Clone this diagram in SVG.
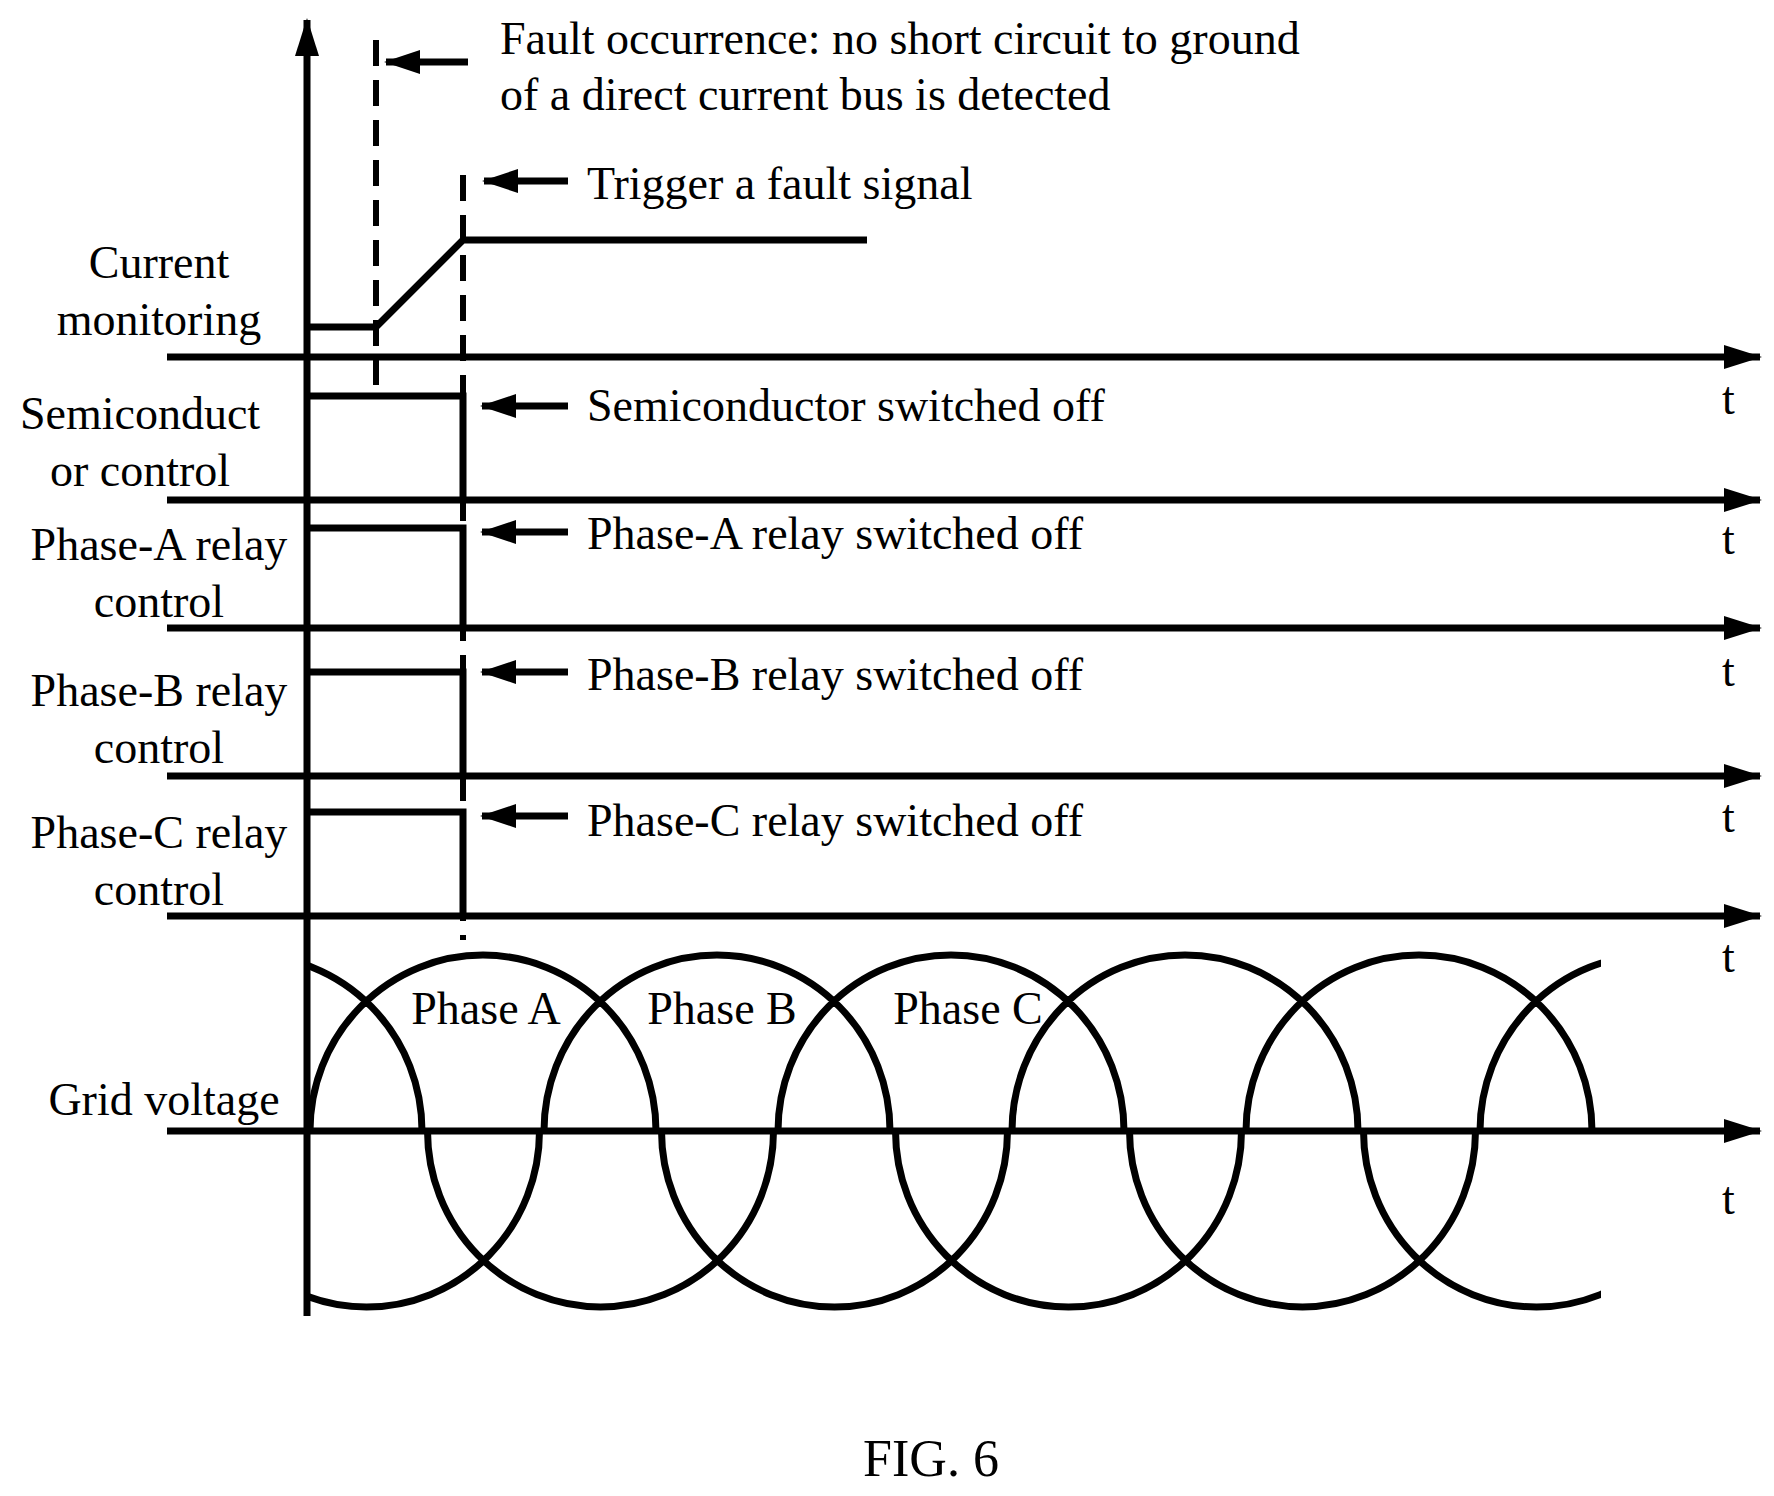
<svg xmlns="http://www.w3.org/2000/svg" width="1774" height="1496" viewBox="0 0 1774 1496">
<style>
.t{font-family:"Liberation Serif","Times New Roman",serif;font-size:46px;fill:#000}
.m{text-anchor:middle}
.ln{stroke:#000;stroke-width:7;fill:none}
.w{stroke:#000;stroke-width:7;fill:none}
.d{stroke:#000;stroke-width:6;fill:none;stroke-dasharray:26 14}
</style>
<defs>
<marker id="ah" markerWidth="38" markerHeight="28" refX="36" refY="14" orient="auto" markerUnits="userSpaceOnUse"><path d="M0,2 L38,14 L0,26 Z" fill="#000"/></marker>
<marker id="sa" markerWidth="36" markerHeight="28" refX="34" refY="14" orient="auto" markerUnits="userSpaceOnUse"><path d="M0,2 L36,14 L0,26 Z" fill="#000"/></marker>
<clipPath id="cp"><rect x="307" y="900" width="1294" height="450"/></clipPath>
</defs>
<g id="connectors">
<line class="ln" x1="307" y1="1316" x2="307" y2="20" marker-end="url(#ah)"/>
<line class="ln" x1="167" y1="357" x2="1760" y2="357" marker-end="url(#ah)"/>
<line class="ln" x1="167" y1="500" x2="1760" y2="500" marker-end="url(#ah)"/>
<line class="ln" x1="167" y1="628" x2="1760" y2="628" marker-end="url(#ah)"/>
<line class="ln" x1="167" y1="776" x2="1760" y2="776" marker-end="url(#ah)"/>
<line class="ln" x1="167" y1="916" x2="1760" y2="916" marker-end="url(#ah)"/>
<line class="ln" x1="167" y1="1131" x2="1760" y2="1131" marker-end="url(#ah)"/>
<line class="d" x1="376" y1="40" x2="376" y2="385"/>
<line class="d" x1="463" y1="175" x2="463" y2="940"/>
<line class="w" x1="468" y1="62" x2="386" y2="62" marker-end="url(#sa)"/>
<line class="w" x1="568" y1="181" x2="484" y2="181" marker-end="url(#sa)"/>
<line class="w" x1="568" y1="406" x2="482" y2="406" marker-end="url(#sa)"/>
<line class="w" x1="568" y1="532" x2="482" y2="532" marker-end="url(#sa)"/>
<line class="w" x1="568" y1="672" x2="482" y2="672" marker-end="url(#sa)"/>
<line class="w" x1="568" y1="816" x2="482" y2="816" marker-end="url(#sa)"/>
</g>
<g id="signals">
<polyline class="w" points="307,327 376,327 463,240 867,240"/>
<polyline class="w" points="307,396 463,396 463,500"/>
<polyline class="w" points="307,528 463,528 463,628"/>
<polyline class="w" points="307,672 463,672 463,776"/>
<polyline class="w" points="307,812 463,812 463,916"/>
</g>
<g id="grid-wave" clip-path="url(#cp)" class="w">
<path d="M76,1131 A173 176 0 0 1 422,1131 M310,1131 A173 176 0 0 1 656,1131 M544,1131 A173 176 0 0 1 890,1131 M778,1131 A173 176 0 0 1 1124,1131 M1012,1131 A173 176 0 0 1 1358,1131 M1246,1131 A173 176 0 0 1 1592,1131 M1480,1131 A173 176 0 0 1 1826,1131"/>
<path d="M193.5,1131 A173 176 0 0 0 539.5,1131 M427.5,1131 A173 176 0 0 0 773.5,1131 M661.5,1131 A173 176 0 0 0 1007.5,1131 M895.5,1131 A173 176 0 0 0 1241.5,1131 M1129.5,1131 A173 176 0 0 0 1475.5,1131 M1363.5,1131 A173 176 0 0 0 1709.5,1131"/>
</g>
<g id="labels">
<text class="t" x="500" y="54">Fault occurrence: no short circuit to ground</text>
<text class="t" x="500" y="110">of a direct current bus is detected</text>
<text class="t" x="587" y="199">Trigger a fault signal</text>
<text class="t" x="587" y="421">Semiconductor switched off</text>
<text class="t" x="587" y="549">Phase-A relay switched off</text>
<text class="t" x="587" y="690">Phase-B relay switched off</text>
<text class="t" x="587" y="836">Phase-C relay switched off</text>
<text class="t m" x="159" y="278">Current</text>
<text class="t m" x="159" y="335">monitoring</text>
<text class="t m" x="140" y="429">Semiconduct</text>
<text class="t m" x="140" y="486">or control</text>
<text class="t m" x="159" y="560">Phase-A relay</text>
<text class="t m" x="159" y="617">control</text>
<text class="t m" x="159" y="706">Phase-B relay</text>
<text class="t m" x="159" y="763">control</text>
<text class="t m" x="159" y="848">Phase-C relay</text>
<text class="t m" x="159" y="905">control</text>
<text class="t m" x="164" y="1115">Grid voltage</text>
<text class="t m" x="486" y="1024">Phase A</text>
<text class="t m" x="722" y="1024">Phase B</text>
<text class="t m" x="968" y="1024">Phase C</text>
<text class="t" x="1722" y="414">t</text>
<text class="t" x="1722" y="554">t</text>
<text class="t" x="1722" y="686">t</text>
<text class="t" x="1722" y="832">t</text>
<text class="t" x="1722" y="972">t</text>
<text class="t" x="1722" y="1214">t</text>
<text class="t m" x="931" y="1476" style="font-size:52px">FIG. 6</text>
</g>
</svg>
